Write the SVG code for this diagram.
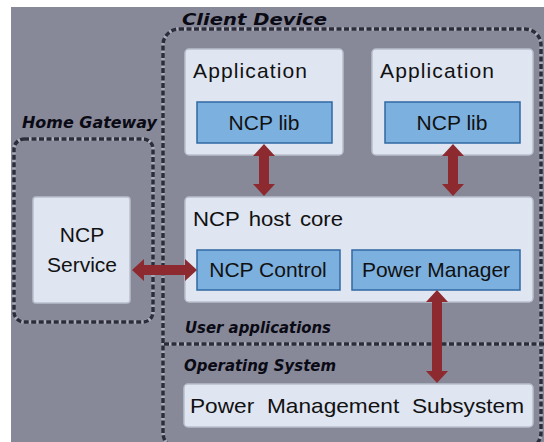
<svg xmlns="http://www.w3.org/2000/svg" width="544" height="442" viewBox="0 0 544 442">
<style>
.box{fill:#dfe5f1;stroke:#b9bfcc;stroke-width:1.5}
.blue{fill:#7cb0de;stroke:#2f68a3;stroke-width:1.5}
.t{font-family:"Liberation Sans",Arial,sans-serif;font-size:21px;fill:#111}
.ttl{font-family:"DejaVu Sans",sans-serif;font-size:15px;font-weight:bold;font-style:italic;fill:#0a0a14}
.dashb{fill:none;stroke:#a9aab8;stroke-width:3.5}
.dash{fill:none;stroke:#2c2d3a;stroke-width:3.5;stroke-dasharray:5 2.5}
.arr{fill:#8d2a2f}
</style>
<rect x="0" y="0" width="544" height="442" fill="#ffffff"/>
<rect x="11" y="7" width="533" height="435" fill="#878898"/>

<g id="client-device">
<rect class="dashb" x="163" y="29" width="378" height="420" rx="16"/>
<rect class="dash" x="163" y="29" width="378" height="420" rx="16"/>
<text class="ttl" x="182" y="25" textLength="145" lengthAdjust="spacingAndGlyphs">Client Device</text>
</g>

<g id="home-gateway">
<rect class="dashb" x="14" y="139" width="139" height="183" rx="10"/>
<rect class="dash" x="14" y="139" width="139" height="183" rx="10"/>
<text class="ttl" x="22" y="128" textLength="135" lengthAdjust="spacingAndGlyphs">Home Gateway</text>
</g>

<g id="layer-divider">
<line class="dashb" x1="164" y1="344" x2="544" y2="344" stroke-width="3"/>
<line class="dash" x1="164" y1="344" x2="544" y2="344" stroke-width="3"/>
<text class="ttl" x="185" y="333" textLength="146" lengthAdjust="spacingAndGlyphs">User applications</text>
<text class="ttl" x="184" y="371" textLength="152" lengthAdjust="spacingAndGlyphs">Operating System</text>
</g>

<g id="ncp-service">
<rect class="box" x="33" y="197" width="97" height="106" rx="3"/>
<text class="t" x="82" y="242" text-anchor="middle" font-size="22">NCP</text>
<text class="t" x="82" y="272" text-anchor="middle" font-size="22">Service</text>
</g>

<g id="application-1">
<rect class="box" x="185" y="49" width="158" height="106" rx="4"/>
<text class="t" x="193" y="78" font-size="22" textLength="114">Application</text>
</g>
<g id="ncp-lib-1">
<rect class="blue" x="197" y="102" width="135" height="41"/>
<text class="t" x="264" y="130" text-anchor="middle">NCP lib</text>
</g>

<g id="application-2">
<rect class="box" x="372" y="49" width="161" height="106" rx="4"/>
<text class="t" x="380" y="78" font-size="22" textLength="114">Application</text>
</g>
<g id="ncp-lib-2">
<rect class="blue" x="385" y="102" width="135" height="41"/>
<text class="t" x="452" y="130" text-anchor="middle">NCP lib</text>
</g>

<g id="ncp-host-core">
<rect class="box" x="185" y="197" width="348" height="105" rx="4"/>
<text class="t" x="193" y="226" font-size="22" word-spacing="3" textLength="150" lengthAdjust="spacingAndGlyphs">NCP host core</text>
</g>
<g id="ncp-control">
<rect class="blue" x="197" y="250" width="143" height="40"/>
<text class="t" x="268" y="277" text-anchor="middle">NCP Control</text>
</g>
<g id="power-manager">
<rect class="blue" x="352" y="250" width="168" height="40"/>
<text class="t" x="436" y="277" text-anchor="middle">Power Manager</text>
</g>

<g id="power-management-subsystem">
<rect class="box" x="184" y="384" width="349" height="43" rx="4"/>
<text class="t" x="190" y="413" font-size="22" word-spacing="6" textLength="334" lengthAdjust="spacingAndGlyphs">Power Management Subsystem</text>
</g>

<g id="connectors">
<polygon class="arr" points="264,144 275,156 269,156 269,184 275,184 264,196 253,184 259,184 259,156 253,156"/>
<polygon class="arr" points="453,144 464,156 458,156 458,184 464,184 453,196 442,184 448,184 448,156 442,156"/>
<polygon class="arr" points="437,290 448,302 442,302 442,371 448,371 437,383 426,371 432,371 432,302 426,302"/>
<polygon class="arr" points="132,270 144,259 144,265 185,265 185,259 197,270 185,281 185,275 144,275 144,281"/>
</g>
</svg>
